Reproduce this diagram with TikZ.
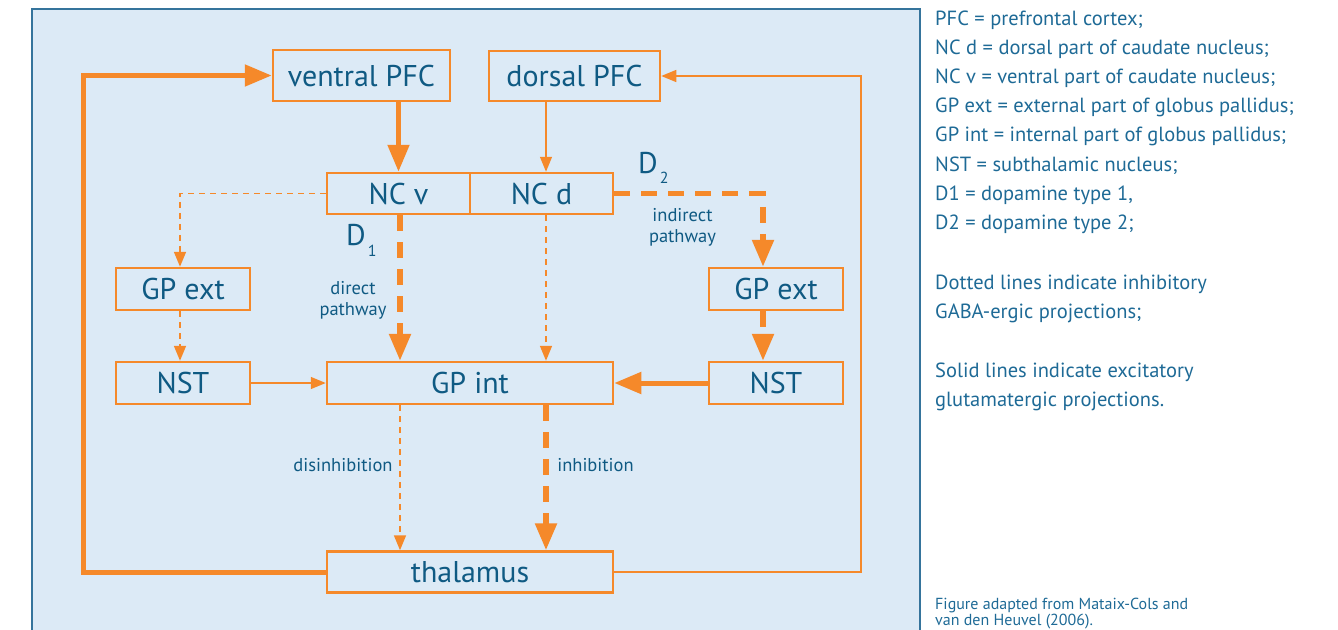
\documentclass[tikz,border=0pt]{standalone}
\usepackage{fontspec}
\setmainfont{PT Sans}
\usetikzlibrary{arrows.meta,calc}
\definecolor{panelfill}{HTML}{DCEAF6}
\definecolor{panelline}{HTML}{35749C}
\definecolor{orng}{HTML}{F5892A}
\definecolor{ink}{HTML}{0F5A83}
\definecolor{legendink}{HTML}{1E6A96}
\begin{document}
\begin{tikzpicture}[x=1pt,y=-1pt,
  box/.style={draw=orng, line width=2.5pt, fill=panelfill, text=ink, inner sep=0pt,
    font=\fontsize{30}{30}\selectfont, text height=21pt, text depth=0pt},
  strong/.style={draw=orng, line width=5pt},
  weak/.style={draw=orng, line width=1.4pt},
  strongdash/.style={draw=orng, line width=5.5pt, dash pattern=on 16pt off 11pt},
  weakdash/.style={draw=orng, line width=1.7pt, dash pattern=on 6pt off 5pt},
  strongtip/.style={-{Triangle[width=21pt,length=27pt]}},
  weaktip/.style={-{Triangle[width=12pt,length=15pt]}},
  biglabel/.style={anchor=base west, inner sep=0pt, text=ink, font=\fontsize{30}{30}\selectfont},
  smalllabel/.style={anchor=base, inner sep=0pt, text=ink, font=\fontsize{18.5}{18.5}\selectfont},
  legend/.style={anchor=base west, inner sep=0pt, text=legendink, font=\fontsize{20.5}{20.5}\selectfont},
  credit/.style={anchor=base west, inner sep=0pt, text=legendink, font=\fontsize{16}{16}\selectfont}
]
\useasboundingbox (0,0) rectangle (1338,629);
\clip (0,0) rectangle (1338,629);

% background panel
\draw[panelline, line width=1.6pt, fill=panelfill] (32,9) rectangle (920,660);

% boxes
\node[box, minimum width=177pt, minimum height=51pt] (vpfc) at (361.5,75.5) {ventral PFC};
\node[box, minimum width=171pt, minimum height=50pt] (dpfc) at (574.5,76) {dorsal PFC};
\node[box, minimum width=143pt, minimum height=41pt] (ncv) at (398.5,193.5) {NC v};
\node[box, minimum width=143pt, minimum height=41pt] (ncd) at (541.5,193.5) {NC d};
\node[box, minimum width=134pt, minimum height=42pt] (gpel) at (183,289) {GP ext};
\node[box, minimum width=134pt, minimum height=42pt] (nstl) at (183,383) {NST};
\node[box, minimum width=286pt, minimum height=42pt] (gpi) at (470,383) {GP int};
\node[box, minimum width=134pt, minimum height=42pt] (gper) at (776,289) {GP ext};
\node[box, minimum width=134pt, minimum height=42pt] (nstr) at (776,383) {NST};
\node[box, minimum width=286pt, minimum height=41pt] (thal) at (470,572) {thalamus};

% columns and outer return lines
\coordinate (colA) at (180,0);
\coordinate (colB) at (400,0);
\coordinate (colC) at (546,0);
\coordinate (colD) at (763,0);
\coordinate (lx) at (83,0);
\coordinate (rx) at (861,0);

% thalamo-cortical returns
\draw[strong, strongtip] (thal.west) -- (thal.west -| lx) -- (lx |- vpfc.west) -- (vpfc.west);
\draw[weak, weaktip] (thal.east) -- (thal.east -| rx) -- (rx |- dpfc.east) -- (dpfc.east);

% cortex to striatum
\draw[strong, strongtip] (ncv.north |- vpfc.south) -- (ncv.north);
\draw[weak, weaktip] (colC |- dpfc.south) -- (colC |- ncd.north);

% striatal outputs
\draw[weakdash, weaktip] (ncv.west) -| (colA |- gpel.north);
\draw[strongdash, strongtip] (colB |- ncv.south) -- (colB |- gpi.north);
\draw[weakdash, weaktip] (colC |- ncd.south) -- (colC |- gpi.north);
\draw[strongdash, strongtip] (ncd.east) -| (colD |- gper.north);

% pallidum and subthalamic nucleus
\draw[weakdash, weaktip] (colA |- gpel.south) -- (colA |- nstl.north);
\draw[strongdash, strongtip] (colD |- gper.south) -- (colD |- nstr.north);
\draw[weak, weaktip] (nstl.east) -- (gpi.west);
\draw[strong, strongtip] (nstr.west) -- (gpi.east);

% pallidum to thalamus
\draw[weakdash, weaktip] (colB |- gpi.south) -- (colB |- thal.north);
\draw[strongdash, strongtip] (colC |- gpi.south) -- (colC |- thal.north);

% pathway labels
\node[biglabel] (d1) at (346,245) {D\hspace{2pt}\raisebox{-11pt}{\fontsize{16}{16}\selectfont 1}};
\node[biglabel] (d2) at (638,173) {D\hspace{2pt}\raisebox{-10pt}{\fontsize{16}{16}\selectfont 2}};
\node[smalllabel] (dir1) at (353,294) {direct};
\node[smalllabel] (dir2) at (353,315) {pathway};
\node[smalllabel] (ind1) at (682.5,221.5) {indirect};
\node[smalllabel] (ind2) at (682.5,242.5) {pathway};
\node[smalllabel] (dis) at (343,471.5) {disinhibition};
\node[smalllabel] (inh) at (595.5,471.5) {inhibition};

% legend
\node[legend] (l1) at (935,25) {PFC = prefrontal cortex;};
\node[legend] (l2) at (935,54.2) {NC d = dorsal part of caudate nucleus;};
\node[legend] (l3) at (935,83.4) {NC v = ventral part of caudate nucleus;};
\node[legend] (l4) at (935,112.6) {GP ext = external part of globus pallidus;};
\node[legend] (l5) at (935,141.8) {GP int = internal part of globus pallidus;};
\node[legend] (l6) at (935,171) {NST = subthalamic nucleus;};
\node[legend] (l7) at (935,200.2) {D1 = dopamine type 1,};
\node[legend] (l8) at (935,229.4) {D2 = dopamine type 2;};
\node[legend] (l9) at (935,289.5) {Dotted lines indicate inhibitory};
\node[legend] (l10) at (935,318.7) {GABA-ergic projections;};
\node[legend] (l11) at (935,377.5) {Solid lines indicate excitatory};
\node[legend] (l12) at (935,406.7) {glutamatergic projections.};
\node[credit] (c1) at (935,609) {Figure adapted from Mataix-Cols and};
\node[credit] (c2) at (935,625) {van den Heuvel (2006).};
\end{tikzpicture}
\end{document}
